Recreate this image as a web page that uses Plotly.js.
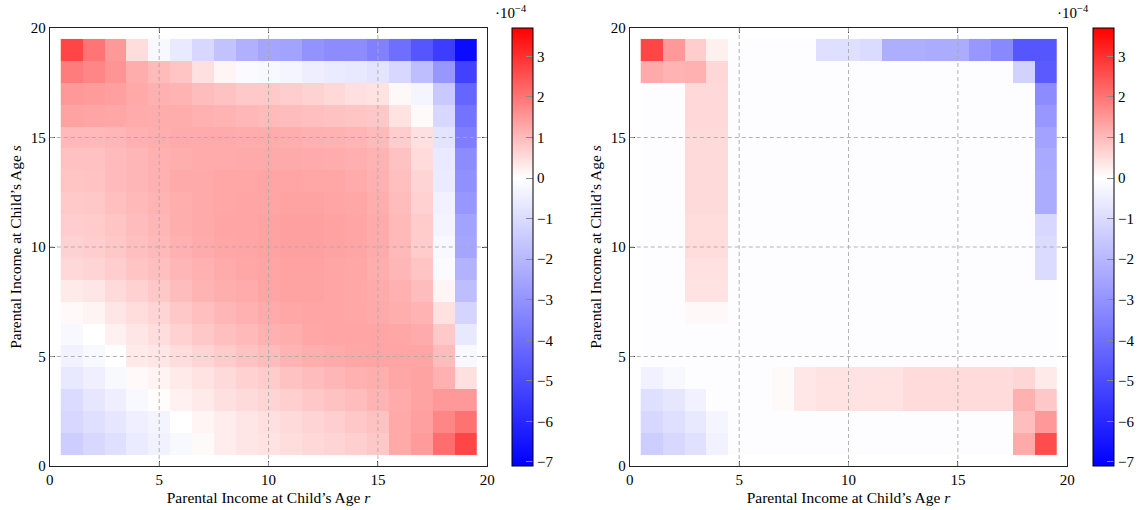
<!DOCTYPE html>
<html>
<head>
<meta charset="utf-8">
<script src="https://cdn.plot.ly/plotly-3.0.1.min.js"></script>
<style>html,body{margin:0;padding:0;background:#fff;}#chart{width:1143px;height:510px;}</style>
</head>
<body>
<div id="chart"></div>
<script>
// Values in units of 1e-4; rows listed from s = 19 (top) down to s = 1
const ages = [1,2,3,4,5,6,7,8,9,10,11,12,13,14,15,16,17,18,19];
const tickVals = [0,5,10,15,20];
const cbTicks = [-7,-6,-5,-4,-3,-2,-1,0,1,2,3];
const zMin = -7.1, zMax = 3.7;

const leftTopDown = [
 [2.7,2.0,1.5,0.5,-0.2,-0.6,-1.1,-1.7,-2.2,-2.5,-2.6,-3.0,-3.2,-3.2,-3.5,-4.0,-4.7,-5.4,-6.8],
 [1.9,1.75,1.55,1.2,1.0,0.85,0.45,0.15,-0.15,-0.2,-0.28,-0.47,-0.55,-0.64,-0.75,-1.1,-1.8,-2.9,-5.3],
 [1.5,1.45,1.4,1.25,1.15,1.1,0.97,0.88,0.78,0.78,0.72,0.65,0.56,0.46,0.4,0.1,-0.28,-1.5,-4.3],
 [1.35,1.3,1.28,1.22,1.2,1.2,1.15,1.1,1.05,1.0,0.97,0.93,0.88,0.84,0.8,0.4,0.07,-1.1,-3.9],
 [1.02,1.02,1.06,1.14,1.18,1.22,1.22,1.22,1.2,1.2,1.18,1.14,1.12,1.07,1.0,0.72,0.45,-0.75,-3.6],
 [0.9,0.9,0.98,1.06,1.14,1.18,1.22,1.22,1.24,1.24,1.24,1.22,1.2,1.16,1.1,0.88,0.52,-0.6,-3.2],
 [0.85,0.87,0.98,1.06,1.14,1.24,1.24,1.27,1.27,1.3,1.3,1.29,1.27,1.22,1.14,0.93,0.62,-0.55,-3.1],
 [0.78,0.8,0.93,1.02,1.1,1.18,1.24,1.27,1.3,1.3,1.35,1.35,1.3,1.27,1.18,0.97,0.67,-0.4,-2.9],
 [0.72,0.76,0.85,0.97,1.06,1.18,1.24,1.3,1.3,1.35,1.38,1.38,1.35,1.3,1.22,1.02,0.76,-0.3,-2.6],
 [0.65,0.72,0.8,0.93,1.02,1.14,1.22,1.27,1.3,1.35,1.38,1.38,1.35,1.3,1.22,1.02,0.76,-0.2,-2.5],
 [0.55,0.62,0.73,0.85,0.93,1.06,1.14,1.22,1.27,1.3,1.35,1.35,1.3,1.27,1.18,1.06,0.85,-0.15,-2.15],
 [0.3,0.36,0.53,0.67,0.8,0.97,1.1,1.18,1.22,1.3,1.35,1.35,1.3,1.27,1.22,1.14,0.97,0.14,-1.8],
 [0.09,0.16,0.36,0.49,0.62,0.8,0.93,1.06,1.14,1.22,1.27,1.3,1.3,1.27,1.24,1.18,1.1,0.43,-1.2],
 [-0.2,0.0,0.2,0.36,0.49,0.67,0.8,0.93,1.02,1.14,1.18,1.27,1.3,1.3,1.3,1.27,1.22,0.78,-0.65],
 [-0.4,-0.2,0.0,0.3,0.37,0.49,0.62,0.75,0.88,0.97,1.1,1.18,1.22,1.27,1.3,1.3,1.3,0.97,-0.2],
 [-0.65,-0.45,-0.2,0.09,0.18,0.31,0.4,0.53,0.67,0.75,0.88,0.97,1.06,1.14,1.18,1.27,1.35,1.15,0.45],
 [-1.0,-0.7,-0.48,-0.2,0.05,0.2,0.31,0.45,0.53,0.62,0.7,0.8,0.88,0.97,1.1,1.22,1.35,1.5,1.5],
 [-1.1,-0.9,-0.7,-0.45,-0.3,0.0,0.14,0.27,0.36,0.45,0.53,0.62,0.7,0.8,0.88,1.25,1.38,1.75,2.05],
 [-1.4,-1.1,-0.9,-0.55,-0.35,-0.2,0.07,0.27,0.36,0.4,0.49,0.57,0.62,0.7,0.8,1.25,1.45,2.1,2.7]
];

const rightTopDown = [
 [2.7,1.5,0.73,0.22,-0.06,-0.06,-0.06,-0.06,-0.9,-0.9,-1.0,-2.25,-2.25,-2.3,-2.3,-2.9,-3.3,-4.7,-4.7],
 [1.23,1.1,1.15,0.58,-0.06,-0.06,-0.06,-0.06,-0.06,-0.06,-0.06,-0.06,-0.06,-0.06,-0.06,-0.06,-0.06,-1.25,-4.6],
 [-0.06,-0.06,0.55,0.55,-0.06,-0.06,-0.06,-0.06,-0.06,-0.06,-0.06,-0.06,-0.06,-0.06,-0.06,-0.06,-0.06,-0.06,-3.2],
 [-0.06,-0.06,0.55,0.55,-0.06,-0.06,-0.06,-0.06,-0.06,-0.06,-0.06,-0.06,-0.06,-0.06,-0.06,-0.06,-0.06,-0.06,-2.9],
 [-0.06,-0.06,0.53,0.53,-0.06,-0.06,-0.06,-0.06,-0.06,-0.06,-0.06,-0.06,-0.06,-0.06,-0.06,-0.06,-0.06,-0.06,-2.6],
 [-0.06,-0.06,0.53,0.53,-0.06,-0.06,-0.06,-0.06,-0.06,-0.06,-0.06,-0.06,-0.06,-0.06,-0.06,-0.06,-0.06,-0.06,-2.4],
 [-0.06,-0.06,0.53,0.53,-0.06,-0.06,-0.06,-0.06,-0.06,-0.06,-0.06,-0.06,-0.06,-0.06,-0.06,-0.06,-0.06,-0.06,-2.3],
 [-0.06,-0.06,0.53,0.53,-0.06,-0.06,-0.06,-0.06,-0.06,-0.06,-0.06,-0.06,-0.06,-0.06,-0.06,-0.06,-0.06,-0.06,-2.3],
 [-0.06,-0.06,0.5,0.5,-0.06,-0.06,-0.06,-0.06,-0.06,-0.06,-0.06,-0.06,-0.06,-0.06,-0.06,-0.06,-0.06,-0.06,-1.1],
 [-0.06,-0.06,0.5,0.5,-0.06,-0.06,-0.06,-0.06,-0.06,-0.06,-0.06,-0.06,-0.06,-0.06,-0.06,-0.06,-0.06,-0.06,-1.0],
 [-0.06,-0.06,0.44,0.44,-0.06,-0.06,-0.06,-0.06,-0.06,-0.06,-0.06,-0.06,-0.06,-0.06,-0.06,-0.06,-0.06,-0.06,-1.0],
 [-0.06,-0.06,0.4,0.4,-0.06,-0.06,-0.06,-0.06,-0.06,-0.06,-0.06,-0.06,-0.06,-0.06,-0.06,-0.06,-0.06,-0.06,-0.06],
 [-0.06,-0.06,0.1,0.1,-0.06,-0.06,-0.06,-0.06,-0.06,-0.06,-0.06,-0.06,-0.06,-0.06,-0.06,-0.06,-0.06,-0.06,-0.06],
 [-0.06,-0.06,-0.06,-0.06,-0.06,-0.06,-0.06,-0.06,-0.06,-0.06,-0.06,-0.06,-0.06,-0.06,-0.06,-0.06,-0.06,-0.06,-0.06],
 [-0.06,-0.06,-0.06,-0.06,-0.06,-0.06,-0.06,-0.06,-0.06,-0.06,-0.06,-0.06,-0.06,-0.06,-0.06,-0.06,-0.06,-0.06,-0.06],
 [-0.4,-0.2,-0.06,-0.06,-0.06,-0.06,0.07,0.35,0.42,0.42,0.42,0.42,0.52,0.52,0.52,0.52,0.52,0.6,0.3],
 [-0.9,-0.7,-0.4,-0.06,-0.06,-0.06,0.07,0.35,0.42,0.42,0.42,0.42,0.52,0.52,0.52,0.52,0.52,1.15,0.8],
 [-1.1,-0.9,-0.65,-0.28,-0.06,-0.06,-0.06,-0.06,-0.06,-0.06,-0.06,-0.06,-0.06,-0.06,-0.06,-0.06,-0.06,0.95,1.5],
 [-1.4,-1.1,-0.85,-0.4,-0.06,-0.06,-0.06,-0.06,-0.06,-0.06,-0.06,-0.06,-0.06,-0.06,-0.06,-0.06,-0.06,1.23,2.6]
];

const leftZ = leftTopDown.slice().reverse();
const rightZ = rightTopDown.slice().reverse();

const zeroPos = -zMin / (zMax - zMin);
const cscale = [[0,'rgb(0,0,255)'],[zeroPos,'rgb(255,255,255)'],[1,'rgb(255,0,0)']];
const FONT = 'Liberation Serif, DejaVu Serif, serif';
const W = 1143;

function cbar(xpx){
  return {x: xpx/W, xanchor:'left', xref:'paper', xpad:0, ypad:0, y:0.5, yanchor:'middle',
    len:1, lenmode:'fraction', thickness:21, thicknessmode:'pixels',
    outlinecolor:'#000', outlinewidth:1,
    tickmode:'array', tickvals: cbTicks, ticks:'inside', ticklen:7, tickcolor:'#888', tickwidth:1,
    tickfont:{family:FONT, size:15, color:'#000'}};
}

const traces = [
  {type:'heatmap', x:ages, y:ages, z:leftZ, zmin:zMin, zmax:zMax, colorscale:cscale,
   xaxis:'x', yaxis:'y', colorbar:cbar(514)},
  {type:'heatmap', x:ages, y:ages, z:rightZ, zmin:zMin, zmax:zMax, colorscale:cscale,
   xaxis:'x2', yaxis:'y2', colorbar:cbar(1097)}
];

function ax(domain, anchor, title){
  return {domain:domain, anchor:anchor, range:[0,20], tickmode:'array', tickvals:tickVals,
    ticks:'inside', ticklen:5, tickcolor:'#444', mirror:'ticks', showline:true, linecolor:'#222', linewidth:1,
    showgrid:false, zeroline:false, fixedrange:true, automargin:false,
    tickfont:{family:FONT, size:15, color:'#000'},
    title:{text:title, font:{family:FONT, size:15.5, color:'#000'}, standoff:5}};
}

const grid = [5,10,15];
const shapes = [];
[['x','y'],['x2','y2']].forEach(([xr,yr])=>{
  grid.forEach(g=>{
    shapes.push({type:'line', xref:xr, yref:yr, x0:g, x1:g, y0:0, y1:20, layer:'above',
      line:{color:'rgba(170,170,170,0.9)', width:1, dash:'4px,3px'}});
    shapes.push({type:'line', xref:xr, yref:yr, x0:0, x1:20, y0:g, y1:g, layer:'above',
      line:{color:'rgba(170,170,170,0.9)', width:1, dash:'4px,3px'}});
  });
});

const layout = {
  width:1143, height:510,
  margin:{l:0, r:0, t:28, b:44},
  paper_bgcolor:'#fff', plot_bgcolor:'#fff',
  showlegend:false,
  xaxis: ax([50/W, 489/W], 'y', 'Parental Income at Child\u2019s Age <i>r</i>'),
  yaxis: ax([0,1], 'x', 'Parental Income at Child\u2019s Age <i>s</i>'),
  xaxis2: ax([632/W, 1071/W], 'y2', 'Parental Income at Child\u2019s Age <i>r</i>'),
  yaxis2: ax([0,1], 'x2', 'Parental Income at Child\u2019s Age <i>s</i>'),
  shapes: shapes,
  annotations: [
    {xref:'paper', yref:'paper', x:513/W, y:1, yanchor:'bottom', yshift:5, showarrow:false,
     text:'\u00b710<sup>\u22124</sup>', font:{family:FONT, size:15, color:'#000'}},
    {xref:'paper', yref:'paper', x:1095/W, y:1, yanchor:'bottom', yshift:5, showarrow:false,
     text:'\u00b710<sup>\u22124</sup>', font:{family:FONT, size:15, color:'#000'}}
  ]
};

Plotly.newPlot('chart', traces, layout, {displayModeBar:false, staticPlot:true});
</script>
</body>
</html>
